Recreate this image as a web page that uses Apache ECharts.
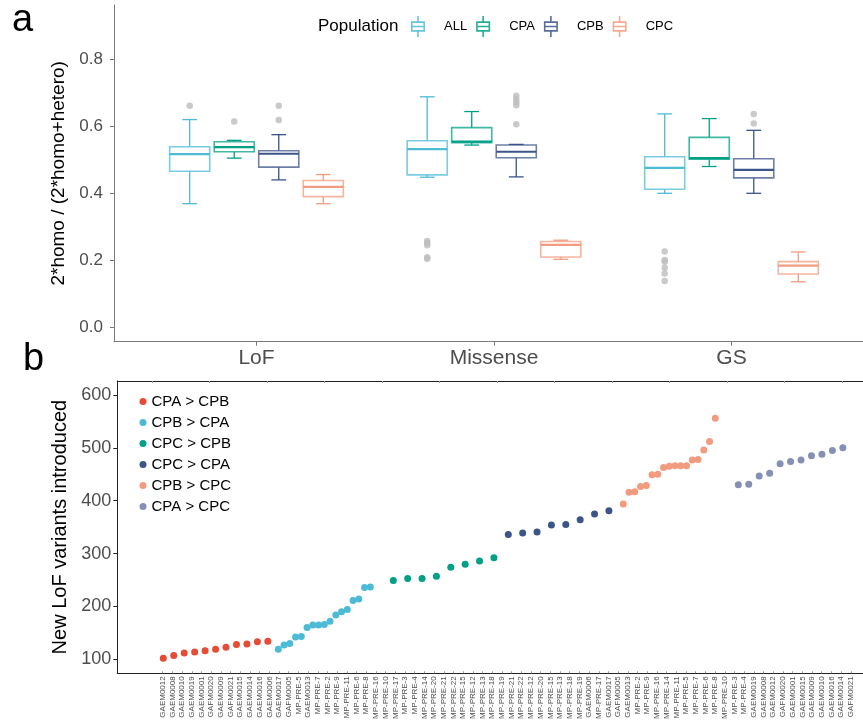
<!DOCTYPE html>
<html>
<head>
<meta charset="utf-8">
<title>LoF variants</title>
<script src="https://cdn.jsdelivr.net/npm/echarts@6/dist/echarts.min.js"></script>
<style>
  html, body { margin: 0; padding: 0; background: #fff; }
  #main { width: 863px; height: 723px; }
</style>
</head>
<body>
<div id="main"></div>
<script>
// ---- panel a: box plots ----
var annoCats = ['LoF', 'Missense', 'GS'];
var popNames = ['ALL', 'CPA', 'CPB', 'CPC'];
var popColors = ['#4DBBD5', '#00A087', '#3C5488', '#F39B7F'];
// [min, q1, median, q3, max] per category
var boxALL = [[0.368, 0.465, 0.516, 0.538, 0.619], [0.447, 0.454, 0.531, 0.556, 0.687], [0.399, 0.411, 0.475, 0.508, 0.636]];
var boxCPA = [[0.504, 0.523, 0.537, 0.553, 0.557], [0.543, 0.550, 0.553, 0.595, 0.643], [0.479, 0.501, 0.504, 0.566, 0.622]];
var boxCPB = [[0.439, 0.477, 0.517, 0.526, 0.574], [0.448, 0.505, 0.523, 0.543, 0.545], [0.399, 0.445, 0.469, 0.502, 0.587]];
var boxCPC = [[0.368, 0.389, 0.418, 0.437, 0.455], [0.202, 0.209, 0.245, 0.255, 0.259], [0.135, 0.158, 0.183, 0.195, 0.224]];
var outALL = [[0.660], [0.257, 0.251, 0.244, 0.208, 0.204], [0.225, 0.200, 0.195, 0.177, 0.160, 0.137]];
var outCPA = [[0.613], [], []];
var outCPB = [[0.660, 0.618], [0.690, 0.680, 0.671, 0.662, 0.605], [0.636, 0.607]];
var outCPC = [[], [], []];
var yTicksA = [0, 0.2, 0.4, 0.6, 0.8];

// ---- panel b: new LoF variants ----
var groupNames = ['CPA > CPB', 'CPB > CPA', 'CPC > CPB', 'CPC > CPA', 'CPB > CPC', 'CPA > CPC'];
var groupColors = ['#E64B35', '#4DBBD5', '#00A087', '#3C5488', '#F39B7F', '#8491B4'];
var valCPAgtCPB = [102, 107, 112, 114, 116, 119, 123, 128, 129, 133, 134];
var valCPBgtCPA = [119, 127, 130, 142, 143, 160, 165, 165, 166, 172, 184, 190, 194, 211, 214, 236, 237];
var valCPCgtCPB = [249, 253, 253, 257, 274, 280, 286, 292];
var valCPCgtCPA = [336, 339, 341, 354, 355, 364, 375, 381];
var valCPBgtCPC = [394, 416, 417, 427, 429, 449, 450, 463, 465, 466, 466, 466, 477, 478, 496, 512, 556];
var valCPAgtCPC = [430, 431, 447, 452, 470, 474, 477, 485, 488, 495, 500];
var groupSlots = [11, 20, 8, 8, 20, 11];
var samplesCPAgtCPB = ['GAEM0012', 'GAEM0008', 'GAEM0010', 'GAEM0019', 'GAEM0001', 'GAFM0020', 'GAEM0009', 'GAFM0021', 'GAEM0015', 'GAEM0014', 'GAEM0016'];
var samplesCPBgtCPA = ['GAEM0006', 'GAEM0017', 'GAFM0005', 'MP-PRE-5', 'GAEM0013', 'MP-PRE-7', 'MP-PRE-2', 'MP-PRE-9', 'MP-PRE-11', 'MP-PRE-6', 'MP-PRE-8', 'MP-PRE-16', 'MP-PRE-10', 'MP-PRE-17', 'MP-PRE-3', 'MP-PRE-4', 'MP-PRE-14'];
var samplesCPCgtCPB = ['MP-PRE-20', 'MP-PRE-21', 'MP-PRE-22', 'MP-PRE-15', 'MP-PRE-12', 'MP-PRE-13', 'MP-PRE-18', 'MP-PRE-19'];
var samplesCPCgtCPA = ['MP-PRE-21', 'MP-PRE-22', 'MP-PRE-12', 'MP-PRE-20', 'MP-PRE-15', 'MP-PRE-13', 'MP-PRE-18', 'MP-PRE-19'];
var samplesCPBgtCPC = ['GAEM0006', 'MP-PRE-17', 'GAEM0017', 'GAFM0005', 'GAEM0013', 'MP-PRE-2', 'MP-PRE-9', 'MP-PRE-16', 'MP-PRE-14', 'MP-PRE-11', 'MP-PRE-5', 'MP-PRE-7', 'MP-PRE-6', 'MP-PRE-8', 'MP-PRE-10', 'MP-PRE-3', 'MP-PRE-4'];
var samplesCPAgtCPC = ['GAEM0019', 'GAEM0008', 'GAEM0012', 'GAFM0020', 'GAEM0001', 'GAEM0015', 'GAEM0009', 'GAEM0010', 'GAEM0016', 'GAEM0014', 'GAFM0021'];
var yTicksB = [100, 200, 300, 400, 500, 600];

var FONT = 'Liberation Sans, Arial, sans-serif';
var boxes = [boxALL, boxCPA, boxCPB, boxCPC];
var outs = [outALL, outCPA, outCPB, outCPC];
var groupVals = [valCPAgtCPB, valCPBgtCPA, valCPCgtCPB, valCPCgtCPA, valCPBgtCPC, valCPAgtCPC];
var sampleLabels = [].concat(samplesCPAgtCPB, samplesCPBgtCPA, samplesCPCgtCPB, samplesCPCgtCPA, samplesCPBgtCPC, samplesCPAgtCPC);

// dodge: 4 boxes in 0.75 of a category
var slot = 0.75 / 4;
var dodge = [-1.5 * slot, -0.5 * slot, 0.5 * slot, 1.5 * slot];
var boxWidth = slot * 0.9;

var boxIcon = 'path://M6.2 0H7.8V5H6.2Z M0 5H14V15H0Z M1.6 6.6V13.4H12.4V6.6Z M1 9.2H13V10.8H1Z M6.2 15H7.8V20H6.2Z';

function boxRender(p) {
  return function (params, api) {
    var x = api.value(0) + dodge[p];
    var lo = api.coord([x, api.value(1)]);
    var q1 = api.coord([x, api.value(2)]);
    var md = api.coord([x, api.value(3)]);
    var q3 = api.coord([x, api.value(4)]);
    var hi = api.coord([x, api.value(5)]);
    var half = api.size([boxWidth, 0])[0] / 2;
    var cap = half * 0.37;
    var cx = lo[0];
    var c = popColors[p];
    var ws = { stroke: c, lineWidth: 1.3 };
    return {
      type: 'group',
      children: [
        { type: 'line', shape: { x1: cx, y1: hi[1], x2: cx, y2: q3[1] }, style: ws },
        { type: 'line', shape: { x1: cx, y1: q1[1], x2: cx, y2: lo[1] }, style: ws },
        { type: 'line', shape: { x1: cx - cap, y1: hi[1], x2: cx + cap, y2: hi[1] }, style: ws },
        { type: 'line', shape: { x1: cx - cap, y1: lo[1], x2: cx + cap, y2: lo[1] }, style: ws },
        { type: 'rect', shape: { x: cx - half, y: q3[1], width: half * 2, height: q1[1] - q3[1] },
          style: { fill: '#fff', stroke: c, lineWidth: 1.6, strokeOpacity: 0.75 } },
        { type: 'line', shape: { x1: cx - half, y1: md[1], x2: cx + half, y2: md[1] },
          style: { stroke: c, lineWidth: 2.2 } }
      ]
    };
  };
}

var series = [];
popNames.forEach(function (name, p) {
  series.push({
    name: name,
    type: 'custom',
    xAxisIndex: 0,
    yAxisIndex: 0,
    itemStyle: { color: popColors[p] },
    renderItem: boxRender(p),
    encode: { x: 0, y: [1, 2, 3, 4, 5] },
    data: boxes[p].map(function (b, ci) { return [ci + 1].concat(b); }),
    z: 2
  });
});
var outlierData = [];
outs.forEach(function (o, p) {
  o.forEach(function (vals, ci) {
    vals.forEach(function (v) { outlierData.push([ci + 1 + dodge[p], v]); });
  });
});
series.push({
  type: 'scatter',
  xAxisIndex: 0,
  yAxisIndex: 0,
  symbolSize: 6.5,
  itemStyle: { color: '#BDBDBD' },
  data: outlierData,
  z: 3
});
groupNames.forEach(function (name, g) {
  series.push({
    name: name,
    type: 'scatter',
    xAxisIndex: 1,
    yAxisIndex: 1,
    symbolSize: 7,
    itemStyle: { color: groupColors[g], opacity: 1 },
    data: groupVals[g].map(function (v, i) { return [g + i / groupSlots[g], v]; })
  });
});

var grayAxis = '#7a7a7a';
var darkAxis = '#222';
var tickLabel = '#4d4d4d';
// plot areas run past the right edge of the picture
var widthA = 863 - 114;
var widthB = 863 - 117.3;

var option = {
  animation: false,
  backgroundColor: '#fff',
  textStyle: { fontFamily: FONT },
  graphic: [
    { type: 'text', left: 12, top: 2, style: { text: 'a', font: '38px ' + FONT, fill: '#000' } },
    { type: 'text', left: 23, top: 341, style: { text: 'b', font: '38px ' + FONT, fill: '#000' } },
    { type: 'text', left: 318, top: 18, style: { text: 'Population', font: '17px ' + FONT, fill: '#000' } }
  ],
  legend: [
    {
      data: popNames,
      left: 411,
      top: 16,
      padding: 0,
      icon: boxIcon,
      symbolKeepAspect: false,
      itemWidth: 14,
      itemHeight: 21,
      itemGap: 9,
      itemStyle: { opacity: 0.85 },
      textStyle: { fontSize: 13, color: '#000', fontFamily: FONT, padding: [0, 0, 0, 14] }
    },
    {
      data: groupNames,
      orient: 'vertical',
      left: 139.5,
      top: 394,
      padding: 0,
      icon: 'circle',
      itemWidth: 7,
      itemHeight: 7,
      itemGap: 6,
      textStyle: { fontSize: 15, lineHeight: 15, color: '#000', fontFamily: FONT }
    }
  ],
  grid: [
    { left: 114, top: 5, width: widthA, height: 336.7 },
    { left: 117.3, top: 381, width: widthB, height: 292.3 },
    { left: 157.9, top: 381, width: 697.7, height: 292.3 }
  ],
  xAxis: [
    {
      gridIndex: 0, type: 'value', min: 0.4, max: 0.4 + widthA / 237.5,
      axisLine: { onZero: false, lineStyle: { color: grayAxis, width: 1 } },
      axisTick: { customValues: [1, 2, 3], length: 4, lineStyle: { color: grayAxis } },
      axisLabel: {
        customValues: [1, 2, 3], fontSize: 21, color: tickLabel, margin: 6, fontFamily: FONT,
        formatter: function (v) { return annoCats[Math.round(v) - 1]; }
      },
      splitLine: { show: false }
    },
    {
      gridIndex: 1, type: 'value', position: 'top', min: -0.4, max: -0.4 + widthB / 115,
      axisLine: { onZero: false, lineStyle: { color: darkAxis, width: 1 } },
      axisTick: { customValues: [-0.1, 0.4, 0.9, 1.4, 1.9, 2.4, 2.9, 3.4, 3.9, 4.4, 4.9, 5.4, 5.9], length: 2, inside: true, lineStyle: { color: '#999' } },
      axisLabel: { show: false },
      splitLine: { show: false }
    },
    {
      gridIndex: 1, type: 'value', position: 'bottom', min: -0.4, max: -0.4 + widthB / 115,
      axisLine: { onZero: false, lineStyle: { color: darkAxis, width: 1 } },
      axisTick: { show: false },
      axisLabel: { show: false },
      splitLine: { show: false }
    },
    {
      gridIndex: 2, type: 'category', position: 'bottom', data: sampleLabels,
      axisLine: { show: false, onZero: false },
      axisTick: { show: true, alignWithLabel: true, length: 2, inside: true, lineStyle: { color: '#999' } },
      axisLabel: { interval: 0, rotate: 90, fontSize: 8, color: tickLabel, margin: 3, fontFamily: FONT },
      splitLine: { show: false }
    }
  ],
  yAxis: [
    {
      gridIndex: 0, type: 'value', min: -0.0439, max: 0.961,
      name: '2*homo / (2*homo+hetero)', nameLocation: 'middle', nameGap: 30,
      nameTextStyle: { fontSize: 19, color: '#000', fontFamily: FONT },
      axisLine: { show: true, onZero: false, lineStyle: { color: grayAxis, width: 1 } },
      axisTick: { show: true, customValues: yTicksA, length: 4, lineStyle: { color: grayAxis } },
      axisLabel: {
        customValues: yTicksA, fontSize: 17, color: tickLabel, margin: 11, fontFamily: FONT,
        formatter: function (v) { return v.toFixed(1); }
      },
      splitLine: { show: false }
    },
    {
      gridIndex: 1, type: 'value', min: 73.5, max: 626.5,
      name: 'New LoF variants introduced', nameLocation: 'middle', nameGap: 39,
      nameTextStyle: { fontSize: 20, color: '#000', fontFamily: FONT },
      axisLine: { show: true, onZero: false, lineStyle: { color: darkAxis, width: 1 } },
      axisTick: { show: true, customValues: yTicksB, length: 4, lineStyle: { color: darkAxis } },
      axisLabel: { customValues: yTicksB, fontSize: 18, color: tickLabel, margin: 6, fontFamily: FONT },
      splitLine: { show: false }
    },
    { gridIndex: 2, type: 'value', show: false, min: 0, max: 1 }
  ],
  series: series
};

var chart = echarts.init(document.getElementById('main'), null, { renderer: 'canvas' });
chart.setOption(option);
</script>
</body>
</html>
